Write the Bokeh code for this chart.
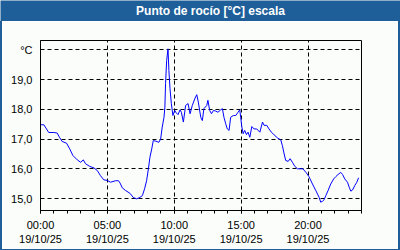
import datetime as dt
from bokeh.plotting import figure
from bokeh.layouts import column, row
from bokeh.models import (FixedTicker, DatetimeTickFormatter, Range1d, Spacer)
from bokeh.core.properties import value
from bokeh.embed import file_html
from bokeh.resources import INLINE

# ---- data -------------------------------------------------------------
DATE = "2025-10-19"
times = ["00:00", "00:15", "00:37", "01:00", "01:15", "01:25", "01:37", "01:57",
         "02:11", "02:25", "02:45", "03:00", "03:12", "03:22", "03:41", "04:00",
         "04:15", "04:29", "04:44", "05:00", "05:14", "05:37", "05:50", "05:57",
         "06:07", "06:22", "06:41", "06:56", "07:11", "07:26", "07:37", "07:47",
         "07:56", "08:04", "08:11", "08:19", "08:26", "08:37", "08:51", "08:59",
         "09:06", "09:14", "09:18", "09:21", "09:26", "09:32", "09:36", "09:41",
         "09:47", "09:54", "10:02", "10:09", "10:17", "10:26", "10:32", "10:41",
         "10:51", "11:02", "11:11", "11:21", "11:32", "11:41", "11:48", "11:59",
         "12:06", "12:13", "12:26", "12:31", "12:39", "12:47", "12:56", "13:06",
         "13:16", "13:28", "13:36", "13:43", "13:51", "13:58", "14:06", "14:13",
         "14:25", "14:36", "14:46", "14:54", "14:58", "15:03", "15:09", "15:16",
         "15:24", "15:31", "15:39", "15:48", "15:58", "16:10", "16:24", "16:36",
         "16:43", "16:55", "17:05", "17:16", "17:28", "17:43", "17:58", "18:05",
         "18:13", "18:20", "18:31", "18:40", "18:50", "19:01", "19:13", "19:37",
         "19:52", "20:04", "20:20", "20:35", "20:50", "20:57", "21:05", "21:12",
         "21:20", "21:30", "21:42", "21:55", "22:05", "22:15", "22:27", "22:35",
         "22:45", "22:57", "23:05", "23:12", "23:20", "23:30", "23:39", "23:47"]
dew_point = [17.48, 17.48, 17.22, 17.22, 17.20, 17.06, 16.92, 16.86,
             16.67, 16.45, 16.30, 16.22, 16.30, 16.17, 16.08, 16.03,
             15.94, 15.77, 15.63, 15.61, 15.55, 15.60, 15.60, 15.52,
             15.36, 15.27, 15.18, 15.04, 14.99, 15.04, 15.10, 15.33,
             15.60, 16.00, 16.39, 16.67, 16.95, 16.93, 16.89, 17.00,
             17.40, 17.73, 18.07, 18.86, 19.64, 20.03, 19.30, 18.69,
             18.19, 17.79, 17.96, 17.88, 17.82, 17.98, 17.90, 17.57,
             18.13, 18.19, 17.85, 18.13, 18.35, 18.49, 18.24, 17.73,
             17.62, 18.02, 18.13, 18.30, 17.96, 17.85, 17.96, 17.94,
             17.90, 17.98, 18.02, 17.73, 17.51, 17.34, 17.29, 17.73,
             17.79, 17.79, 17.90, 17.98, 17.73, 17.42, 17.18, 17.29,
             17.15, 17.23, 17.06, 17.42, 17.34, 17.34, 17.23, 17.57,
             17.46, 17.46, 17.34, 17.23, 17.14, 17.04, 16.97, 16.78,
             16.50, 16.28, 16.25, 16.34, 16.22, 16.08, 16.00, 16.00,
             15.87, 15.74, 15.49, 15.27, 15.04, 14.88, 14.91, 14.96,
             15.10, 15.27, 15.49, 15.66, 15.74, 15.81, 15.88, 15.81,
             15.66, 15.55, 15.38, 15.25, 15.29, 15.44, 15.55, 15.70]
x_tick_hours = [0, 5, 10, 15, 20]
y_ticks = [15, 16, 17, 18, 19, 20]
y_tick_labels = ["15,0", "16,0", "17,0", "18,0", "19,0", "°C"]
title_text = "Punto de rocío [°C] escala"

# ---- helpers ----------------------------------------------------------
day0 = dt.datetime.strptime(DATE, "%Y-%m-%d")
epoch = dt.datetime(1970, 1, 1)


def ms(h):
    return (day0 + dt.timedelta(hours=h) - epoch).total_seconds() * 1000.0


xs = [dt.datetime.strptime(f"{DATE} {t}", "%Y-%m-%d %H:%M") for t in times]

BLUE = "#1e5f9a"
BG = "#fafdfa"
FONT = "Liberation Sans"

# ---- title bar --------------------------------------------------------
tb = figure(width=400, height=21, output_backend="svg", toolbar_location=None,
            x_range=Range1d(0, 400), y_range=Range1d(0, 21),
            min_border=0, min_border_left=0, min_border_right=0,
            min_border_top=0, min_border_bottom=0)
tb.axis.visible = False
tb.grid.visible = False
tb.outline_line_color = None
tb.background_fill_color = BLUE
tb.border_fill_color = BLUE
tb.text(x=[210], y=[10.5], text=[title_text], text_align="center",
        text_baseline="middle", text_font=value(FONT), text_font_size="12px",
        text_font_style="bold", text_color="white")

# ---- main chart -------------------------------------------------------
p = figure(width=396, height=228, output_backend="svg", toolbar_location=None,
           x_axis_type="datetime",
           x_range=Range1d(ms(0), ms(24)), y_range=Range1d(14.6, 20.31),
           min_border_left=38, min_border_right=37,
           min_border_top=19, min_border_bottom=39)

p.background_fill_color = BG
p.border_fill_color = BG
p.outline_line_color = "black"
p.outline_line_width = 1

p.line(xs, dew_point, line_color="#0000ff", line_width=1)

# x axis
p.xaxis.ticker = FixedTicker(ticks=[ms(h) for h in x_tick_hours],
                             minor_ticks=[ms(h) for h in range(25)])
p.xaxis.formatter = DatetimeTickFormatter(hours="%H:%M\n%d/%m/%y",
                                          hourmin="%H:%M\n%d/%m/%y",
                                          days="%H:%M\n%d/%m/%y",
                                          minutes="%H:%M\n%d/%m/%y")
p.xaxis.major_tick_out = 3
p.xaxis.major_tick_in = 0
p.xaxis.minor_tick_out = 3
p.xaxis.minor_tick_in = 0
p.xaxis.major_label_standoff = 5

# y axis
p.yaxis.ticker = FixedTicker(ticks=y_ticks)
p.yaxis.major_label_overrides = {t: l for t, l in zip(y_ticks, y_tick_labels)}
p.yaxis.major_tick_out = 0
p.yaxis.major_tick_in = 0
p.yaxis.minor_tick_out = 0
p.yaxis.minor_tick_in = 0
p.yaxis.major_label_standoff = 8

for ax in (p.xaxis, p.yaxis):
    ax.axis_line_color = "black"
    ax.major_tick_line_color = "black"
    ax.minor_tick_line_color = "black"
    ax.major_label_text_font = FONT
    ax.major_label_text_font_size = "11px"
    ax.major_label_text_color = "black"

for g in (p.xgrid, p.ygrid):
    g.grid_line_color = "black"
    g.grid_line_dash = "4 3"
    g.grid_line_width = 1
    g.grid_line_alpha = 1

# ---- frame border strips ---------------------------------------------
left_strip = Spacer(width=2, height=228, styles={"background-color": BLUE})
right_strip = Spacer(width=2, height=228, styles={"background-color": BLUE})
bottom_strip = Spacer(width=400, height=1, styles={"background-color": BLUE})

layout = column(tb, row(left_strip, p, right_strip, spacing=0), bottom_strip,
                spacing=0)

open("out.html", "w").write(file_html(layout, INLINE))
